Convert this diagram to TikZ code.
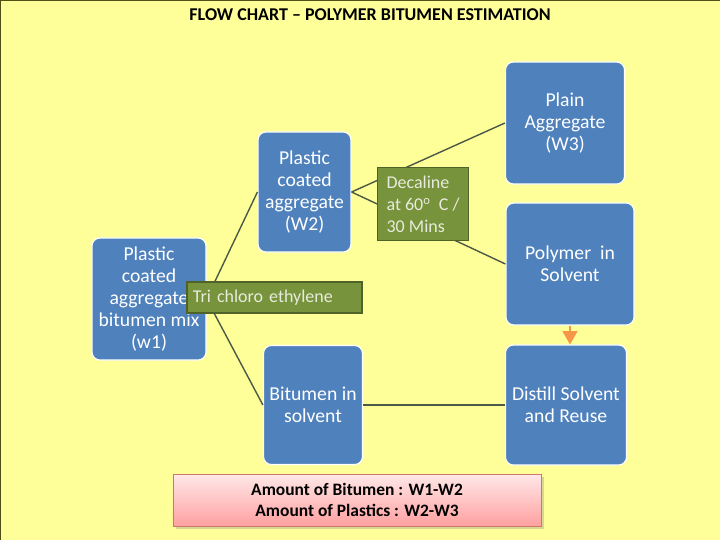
\documentclass[tikz,border=0pt]{standalone}
\usepackage{fontspec}
\setmainfont{Carlito}
\usetikzlibrary{
  arrows,
  shadows
}
\definecolor{slide}{RGB}{255,255,153}
\definecolor{slideedge}{RGB}{80,80,20}
\definecolor{stagefill}{RGB}{79,129,189}
\definecolor{reagentfill}{RGB}{119,147,60}
\definecolor{reagentedge}{RGB}{79,98,40}
\definecolor{reagenttext}{RGB}{232,235,220}
\definecolor{branchcol}{RGB}{75,90,70}
\definecolor{flowcol}{RGB}{247,150,70}
\definecolor{resulttop}{RGB}{255,232,232}
\definecolor{resultbottom}{RGB}{255,160,160}
\definecolor{resultedge}{RGB}{205,120,110}

\begin{document}
\begin{tikzpicture}[
    x=0.025cm, y=-0.025cm, >=triangle 60,
    font=\fontsize{14}{15.6}\selectfont,
    stage/.style={
      draw=white, line width=0.8pt,
      fill=stagefill,
      rounded corners=0.2cm,
      text=white,
      align=center
    },
    reagent/.style={
      draw=reagentedge, line width=1pt,
      fill=reagentfill,
      text=reagenttext,
      align=left,
      font=\fontsize{12.8}{15.6}\selectfont
    },
    branch/.style={
      draw=branchcol,
      line width=1pt
    },
    flow/.style={
      draw=flowcol,
      line width=1.6pt
    },
    result/.style={
      draw=resultedge, line width=0.5pt,
      top color=resulttop, bottom color=resultbottom,
      drop shadow={opacity=0.3},
      align=center,
      font=\bfseries\fontsize{12.4}{15}\selectfont
    }
  ]

  % Slide
  \fill[slide] (0,0) rectangle (720,540);
  \useasboundingbox (0,0) rectangle (720,540);
  \draw[slideedge, line width=1.2pt] (0,540) -- (0,0) -- (720,0);
  \node[font=\bfseries\fontsize{12.8}{15}\selectfont] (title) at (370,15)
    {FLOW CHART -- POLYMER BITUMEN ESTIMATION};

  % Left
  \node[stage, minimum width=2.85cm, minimum height=3.05cm] (w1) at (149,299)
    {Plastic\\coated\\aggregate\\bitumen mix\\(w1)};

  % Middle
  \node[stage, minimum width=2.325cm, minimum height=3cm] (w2) at (304.5,192)
    {Plastic\\coated\\aggregate\\(W2)};
  \node[stage, minimum width=2.475cm, minimum height=2.975cm] (bit) at (313,405)
    {Bitumen in\\solvent};

  % Right
  \node[stage, minimum width=2.975cm, minimum height=3.05cm] (w3) at (565,123)
    {Plain\\Aggregate\\(W3)};
  \node[stage, minimum width=3.2cm, minimum height=3.05cm] (poly) at (570,264)
    {Polymer\ \ in\\Solvent};
  \node[stage, minimum width=3.025cm, minimum height=3cm] (distill) at (566,405)
    {Distill Solvent\\and Reuse};

  % Links
  \draw[branch] (w1.east) -- (w2.west);
  \draw[branch] (w1.east) -- (bit.west);
  \draw[branch] (w2.east) -- (w3.west);
  \draw[branch] (w2.east) -- (poly.west);
  \draw[branch] (bit.east) -- (distill.west);
  \draw[flow,->] (poly.south) -- (poly.south |- distill.north);

  % Solvents
  \node[reagent, minimum width=2.275cm, minimum height=1.825cm] (decal) at (423,204)
    {Decaline\\at 60\textsuperscript{o}\ \ C /\\30 Mins};
  \node[reagent, inner xsep=0.15cm, inner ysep=1pt, text width=4.075cm, minimum height=0.775cm] (tce) at (274.5,297.5)
    {Tri chloro ethylene};

  % Bottom
  \node[result, minimum width=9.2cm, minimum height=1.3cm] (amount) at (357,500)
    {Amount of Bitumen : W1-W2\\Amount of Plastics : W2-W3};

\end{tikzpicture}
\end{document}
